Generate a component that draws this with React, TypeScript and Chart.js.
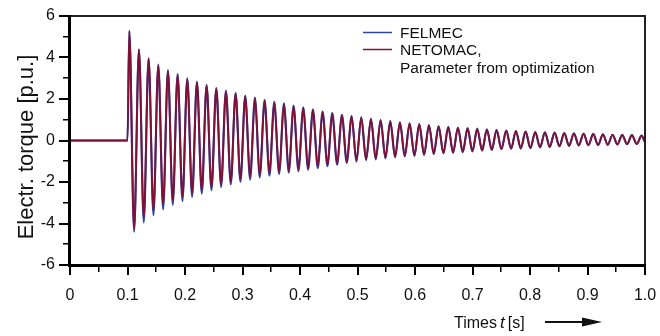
import React, { useEffect, useRef } from "react";
import { Chart, registerables } from "chart.js";

Chart.register(...registerables);

// ---- Data ----
const xTickLabels = ["0", "0.1", "0.2", "0.3", "0.4", "0.5", "0.6", "0.7", "0.8", "0.9", "1.0"];
const yTickLabels = ["-6", "-4", "-2", "0", "2", "4", "6"];

const onsetTime = 0.1; // fault instant [s]
const firstPeakTime = 0.1031; // time of first maximum [s]
const oscPeriod = 0.01681; // period of the torque oscillation [s]
const endTime = 1.0;

const felmecPeaks = [
  5.25, 4.4, 3.97, 3.66, 3.4, 3.2, 3.0, 2.84, 2.68, 2.53, 2.41, 2.3, 2.17, 2.07, 1.96, 1.87, 1.79, 1.68,
  1.6, 1.5, 1.4, 1.32, 1.24, 1.18, 1.12, 1.05, 0.99, 0.94, 0.88, 0.83, 0.79, 0.75, 0.7, 0.66, 0.63, 0.6,
  0.57, 0.54, 0.51, 0.48, 0.46, 0.43, 0.41, 0.4, 0.38, 0.36, 0.35, 0.33, 0.32, 0.3, 0.28, 0.27, 0.26, 0.24,
];
const felmecTroughs = [
  -4.4, -3.95, -3.6, -3.32, -3.1, -2.92, -2.72, -2.56, -2.4, -2.24, -2.12, -2.0, -1.89, -1.78, -1.7, -1.62,
  -1.55, -1.48, -1.41, -1.33, -1.24, -1.17, -1.08, -1.02, -0.95, -0.91, -0.86, -0.81, -0.77, -0.74, -0.7,
  -0.66, -0.62, -0.6, -0.57, -0.53, -0.49, -0.46, -0.42, -0.4, -0.39, -0.37, -0.34, -0.31, -0.28, -0.26,
  -0.24, -0.23, -0.22, -0.21, -0.19, -0.18, -0.17,
];
const felmecEnd = -0.09;

const netomacPeaks = [
  5.3, 4.38, 3.92, 3.6, 3.33, 3.14, 2.94, 2.78, 2.62, 2.48, 2.36, 2.25, 2.13, 2.03, 1.92, 1.83, 1.75, 1.65,
  1.57, 1.47, 1.38, 1.3, 1.22, 1.16, 1.1, 1.03, 0.97, 0.92, 0.86, 0.81, 0.77, 0.73, 0.68, 0.64, 0.61, 0.58,
  0.55, 0.52, 0.49, 0.47, 0.45, 0.42, 0.4, 0.39, 0.37, 0.35, 0.34, 0.32, 0.31, 0.29, 0.27, 0.26, 0.25, 0.23,
];
const netomacTroughs = [
  -4.25, -3.7, -3.35, -3.08, -2.88, -2.7, -2.52, -2.38, -2.24, -2.1, -1.99, -1.88, -1.78, -1.68, -1.6, -1.53,
  -1.46, -1.4, -1.33, -1.26, -1.18, -1.11, -1.03, -0.97, -0.91, -0.87, -0.82, -0.78, -0.74, -0.71, -0.67,
  -0.63, -0.6, -0.57, -0.54, -0.51, -0.47, -0.44, -0.41, -0.39, -0.37, -0.35, -0.32, -0.3, -0.27, -0.25,
  -0.23, -0.22, -0.21, -0.2, -0.18, -0.17, -0.16,
];
const netomacEnd = -0.08;

const seriesNames = ["FELMEC", "NETOMAC,"];
const legendExtraLine = "Parameter from optimization";
const yTitle = "Electr. torque [p.u.]";

const BLUE = "#2c45a6";
const RED = "#7e1236";
const FONT = "'Liberation Sans', Arial, Helvetica, sans-serif";

function buildSeries(peaks: number[], troughs: number[], endValue: number) {
  const pts: { x: number; y: number }[] = [
    { x: 0, y: 0 },
    { x: onsetTime, y: 0 },
  ];
  peaks.forEach((p, i) => {
    pts.push({ x: firstPeakTime + i * oscPeriod, y: p });
    if (i < troughs.length) pts.push({ x: firstPeakTime + (i + 0.5) * oscPeriod, y: troughs[i] });
  });
  pts.push({ x: endTime, y: endValue });
  return pts;
}

const decorPlugin = {
  id: "decor",
  afterDraw(chart: any) {
    const { ctx, chartArea } = chart;
    const left = Math.round(chartArea.left);
    const right = Math.round(chartArea.right);
    const top = Math.round(chartArea.top);
    const bottom = Math.round(chartArea.bottom);
    const xs = chart.scales.x;
    const ys = chart.scales.y;
    ctx.save();
    ctx.globalAlpha = 1;
    ctx.globalCompositeOperation = "source-over";

    // frame: thin top/right, heavy left/bottom
    ctx.fillStyle = "#222";
    ctx.fillRect(left, top - 1, right - left + 1, 2);
    ctx.fillRect(right - 1, top, 2, bottom - top);
    ctx.fillStyle = "#000";
    ctx.fillRect(left - 2, top - 1, 3, bottom - top + 3);
    ctx.fillRect(left - 2, bottom - 1, right - left + 3, 3);

    // ticks
    ctx.fillStyle = "#000";
    for (let k = 0; k <= 20; k++) {
      const v = k * 0.05;
      const px = Math.round(xs.getPixelForValue(v));
      const len = k % 2 === 0 ? 9 : 6;
      ctx.fillRect(px - 1, bottom + 1, k % 2 === 0 ? 2 : 1.5, len);
    }
    for (let v = -6; v <= 6; v++) {
      const py = Math.round(ys.getPixelForValue(v));
      const len = v % 2 === 0 ? 10 : 6;
      ctx.fillRect(left - 1 - len, py - 1, len, v % 2 === 0 ? 2 : 1.5);
    }

    // y title
    ctx.fillStyle = "#111";
    ctx.font = `22px ${FONT}`;
    ctx.save();
    ctx.translate(33, 147);
    ctx.rotate(-Math.PI / 2);
    ctx.textAlign = "center";
    ctx.textBaseline = "alphabetic";
    ctx.fillText(yTitle, 0, 0);
    ctx.restore();

    // x title
    ctx.textBaseline = "alphabetic";
    ctx.textAlign = "left";
    ctx.font = `16px ${FONT}`;
    let x = 454;
    const by = 328;
    ctx.fillText("Times", x, by);
    x += ctx.measureText("Times").width + 3;
    ctx.font = `italic 17px ${FONT}`;
    ctx.fillText("t", x, by);
    x += ctx.measureText("t").width + 3;
    ctx.font = `16px ${FONT}`;
    ctx.fillText("[s]", x, by);
    // arrow
    ctx.fillRect(545, 321, 40, 2);
    ctx.beginPath();
    ctx.moveTo(602, 322);
    ctx.lineTo(582, 317.5);
    ctx.lineTo(582, 326.5);
    ctx.closePath();
    ctx.fill();

    // legend
    ctx.lineWidth = 1.5;
    ctx.strokeStyle = BLUE;
    ctx.beginPath();
    ctx.moveTo(363, 32.5);
    ctx.lineTo(392, 32.5);
    ctx.stroke();
    ctx.strokeStyle = RED;
    ctx.beginPath();
    ctx.moveTo(363, 49.5);
    ctx.lineTo(392, 49.5);
    ctx.stroke();
    ctx.fillStyle = "#111";
    ctx.font = `15.5px ${FONT}`;
    ctx.fillText(seriesNames[0], 400, 37.5);
    ctx.fillText(seriesNames[1], 400, 54.5);
    ctx.fillText(legendExtraLine, 400, 73);

    ctx.restore();
  },
};

export default function App() {
  const ref = useRef<HTMLCanvasElement>(null);
  useEffect(() => {
    if (!ref.current) return;
    const chart = new Chart(ref.current, {
      type: "line",
      data: {
        datasets: [
          {
            label: seriesNames[1],
            data: buildSeries(netomacPeaks, netomacTroughs, netomacEnd),
            borderColor: RED,
            borderWidth: 1.9,
            pointRadius: 0,
            cubicInterpolationMode: "monotone",
            fill: false,
            order: 0,
          },
          {
            label: seriesNames[0],
            data: buildSeries(felmecPeaks, felmecTroughs, felmecEnd),
            borderColor: BLUE,
            borderWidth: 2.1,
            pointRadius: 0,
            cubicInterpolationMode: "monotone",
            fill: false,
            order: 1,
          },
        ],
      },
      options: {
        animation: false,
        responsive: false,
        devicePixelRatio: 1,
        parsing: false,
        layout: { padding: { left: 0, top: 16, right: 15, bottom: 0 } },
        plugins: { legend: { display: false }, tooltip: { enabled: false }, title: { display: false } },
        scales: {
          x: {
            type: "linear",
            min: 0,
            max: 1,
            grid: { display: false, drawTicks: false },
            border: { display: false },
            ticks: {
              stepSize: 0.1,
              padding: 21,
              maxRotation: 0,
              autoSkip: false,
              color: "#111",
              font: { family: FONT, size: 16 },
              callback: (v: any) => xTickLabels[Math.round(Number(v) * 10)] ?? "",
            },
            afterFit: (s: any) => {
              s.height = 71;
              s.paddingLeft = 0;
              s.paddingRight = 0;
            },
          },
          y: {
            type: "linear",
            min: -6,
            max: 6,
            grid: { display: false, drawTicks: false },
            border: { display: false },
            ticks: {
              stepSize: 2,
              padding: 15,
              color: "#111",
              font: { family: FONT, size: 16 },
              callback: (v: any) => yTickLabels[Math.round((Number(v) + 6) / 2)] ?? "",
            },
            afterFit: (s: any) => {
              s.width = 70;
              s.paddingTop = 0;
              s.paddingBottom = 0;
            },
          },
        },
      },
      plugins: [decorPlugin],
    });
    return () => chart.destroy();
  }, []);
  return (
    <div style={{ position: "fixed", left: 0, top: 0, width: 660, height: 336, background: "#fff" }}>
      <canvas ref={ref} width={660} height={336} style={{ width: 660, height: 336, display: "block" }} />
    </div>
  );
}
